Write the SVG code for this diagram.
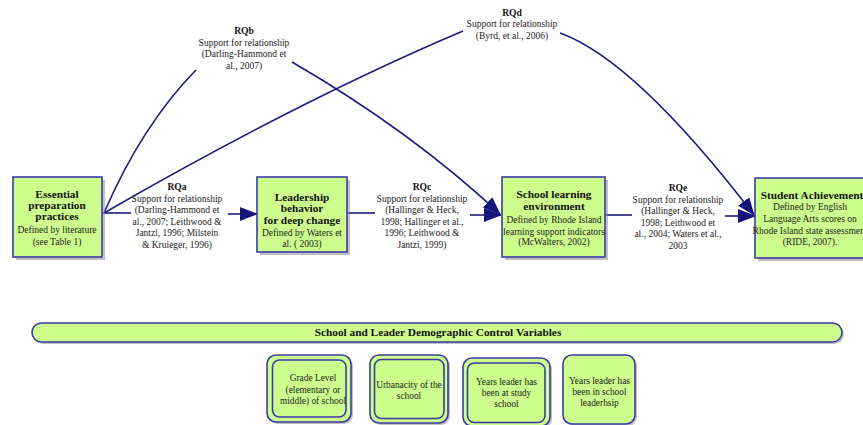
<svg xmlns="http://www.w3.org/2000/svg" width="863" height="425" viewBox="0 0 863 425">
<style>
.box{fill:#ccfd8d;stroke:#3b3ba6;stroke-width:1.6}
.sh{fill:#8c8c8c;opacity:0.55}
.ln{fill:none;stroke:#1b1b7e;stroke-width:1.6}
.t{font-family:"Liberation Serif","Times New Roman",serif;fill:#222;text-anchor:middle}
.b{font-weight:bold;font-size:11.3px;fill:#111}
.n{font-size:9.5px}
.rq{font-weight:bold;font-size:9.6px;fill:#111}
.s{font-size:9.4px}
</style>
<defs>
<marker id="ar" markerUnits="userSpaceOnUse" markerWidth="18" markerHeight="14" viewBox="0 0 18 14" refX="17" refY="7" orient="auto">
<path d="M0,0 L18,7 L0,14 Z" fill="#14147a"/>
</marker>
</defs>
<rect width="863" height="425" fill="#fff"/>

<g id="connectors">
<path class="ln" d="M102,213 H131"/>
<path class="ln" d="M228,214 H257" marker-end="url(#ar)"/>
<path class="ln" d="M347,213 H375"/>
<path class="ln" d="M470,215 H501" marker-end="url(#ar)"/>
<path class="ln" d="M605,215 H632"/>
<path class="ln" d="M725,216 H755" marker-end="url(#ar)"/>
<path class="ln" d="M104,213 Q142,125 196,70"/>
<path class="ln" d="M292,62 Q411,131 500,214" marker-end="url(#ar)"/>
<path class="ln" d="M104,213 Q300,100 463,31"/>
<path class="ln" d="M560,33 Q635,60 754,215" marker-end="url(#ar)"/>
</g>

<g id="label-RQa" class="t">
<text class="rq" x="177" y="190">RQa</text>
<text class="n" x="177" y="201.5">Support for relationship</text>
<text class="n" x="177" y="213">(Darling-Hammond et</text>
<text class="n" x="177" y="224.5">al., 2007; Leithwood &amp;</text>
<text class="n" x="177" y="236">Jantzi, 1996; Milstein</text>
<text class="n" x="177" y="247.5">&amp; Kruieger, 1996)</text>
</g>
<g id="label-RQb" class="t">
<text class="rq" x="244" y="34">RQb</text>
<text class="n" x="244" y="45.5">Support for relationship</text>
<text class="n" x="244" y="57">(Darling-Hammond et</text>
<text class="n" x="244" y="68.5">al., 2007)</text>
</g>
<g id="label-RQc" class="t">
<text class="rq" x="422" y="190">RQc</text>
<text class="n" x="422" y="201.5">Support for relationship</text>
<text class="n" x="422" y="213">(Hallinger &amp; Heck,</text>
<text class="n" x="422" y="224.5">1998; Hallinger et al.,</text>
<text class="n" x="422" y="236">1996; Leithwood &amp;</text>
<text class="n" x="422" y="247.5">Jantzi, 1999)</text>
</g>
<g id="label-RQd" class="t">
<text class="rq" x="512" y="16">RQd</text>
<text class="n" x="512" y="27">Support for relationship</text>
<text class="n" x="512" y="38.5">(Byrd, et al., 2006)</text>
</g>
<g id="label-RQe" class="t">
<text class="rq" x="678" y="191">RQe</text>
<text class="n" x="678" y="202.5">Support for relationship</text>
<text class="n" x="678" y="214">(Hallinger &amp; Heck,</text>
<text class="n" x="678" y="225.5">1998; Leithwood et</text>
<text class="n" x="678" y="237">al., 2004; Waters et al.,</text>
<text class="n" x="678" y="248.5">2003</text>
</g>

<g id="essential-preparation">
<rect class="sh" x="16" y="180" width="89" height="80"/>
<rect class="box" x="13" y="177" width="89" height="80"/>
<text class="t b" x="57" y="198">Essential</text>
<text class="t b" x="57" y="209">preparation</text>
<text class="t b" x="57" y="220">practices</text>
<text class="t n" x="57" y="233">Defined by literature</text>
<text class="t n" x="57" y="244.5">(see Table 1)</text>
</g>

<g id="leadership-behavior">
<rect class="sh" x="260" y="180" width="90" height="75"/>
<rect class="box" x="257" y="177" width="90" height="75"/>
<text class="t b" x="302" y="200.5">Leadership</text>
<text class="t b" x="302" y="211.5">behavior</text>
<text class="t b" x="302" y="223.5">for deep change</text>
<text class="t n" x="302" y="236">Defined by Waters et</text>
<text class="t n" x="302" y="247">al. ( 2003)</text>
</g>

<g id="school-learning-environment">
<rect class="sh" x="505" y="180" width="103" height="80"/>
<rect class="box" x="502" y="177" width="103" height="80"/>
<text class="t b" x="554" y="198">School learning</text>
<text class="t b" x="554" y="209.5">environment</text>
<text class="t n" x="554" y="222.5">Defined by Rhode Island</text>
<text class="t n" x="554" y="234.5">learning support indicators</text>
<text class="t n" x="554" y="245">(McWalters, 2002)</text>
</g>

<g id="student-achievement">
<rect class="sh" x="758" y="181" width="115" height="80"/>
<rect class="box" x="755" y="178" width="115" height="80"/>
<text class="t b" x="812" y="199">Student Achievement</text>
<text class="t n" x="810" y="210">Defined by  English</text>
<text class="t n" x="810" y="222">Language Arts scores on</text>
<text class="t n" x="810" y="233.5">Rhode Island state assessment</text>
<text class="t n" x="810" y="245">(RIDE, 2007).</text>
</g>

<g id="control-variables">
<rect class="sh" x="33" y="325" width="811" height="19" rx="9.5"/>
<rect class="box" x="32" y="323" width="810" height="19" rx="9.5"/>
<text class="t b" x="438" y="335.5">School and Leader Demographic Control Variables</text>
</g>

<g id="grade-level">
<rect class="sh" x="269" y="357" width="84" height="67" rx="9"/>
<rect class="box" x="267" y="355" width="84" height="67" rx="9"/>
<rect class="box" x="272.5" y="360" width="73.5" height="57" rx="7"/>
<text class="t s" x="313" y="380.5">Grade Level</text>
<text class="t s" x="313" y="392.5">(elementary or</text>
<text class="t s" x="313" y="404">middle) of school</text>
</g>

<g id="urbanacity">
<rect class="sh" x="372" y="357" width="78" height="68" rx="9"/>
<rect class="box" x="370" y="355" width="78" height="68" rx="9"/>
<rect class="box" x="374.5" y="359.5" width="69.5" height="59" rx="7"/>
<text class="t s" x="409" y="387.5">Urbanacity of the</text>
<text class="t s" x="409" y="398.5">school</text>
</g>

<g id="years-at-school">
<rect class="sh" x="465" y="360" width="87" height="68" rx="9"/>
<rect class="box" x="463" y="358" width="87" height="68" rx="9"/>
<rect class="box" x="467.5" y="363" width="77.5" height="59.5" rx="7"/>
<text class="t s" x="506.5" y="385">Years leader has</text>
<text class="t s" x="506.5" y="396">been at study</text>
<text class="t s" x="506.5" y="407">school</text>
</g>

<g id="years-in-leadership">
<rect class="sh" x="565" y="357" width="72" height="69" rx="9"/>
<rect class="box" x="563" y="355" width="72" height="69" rx="9"/>
<text class="t s" x="599.5" y="383.5">Years leader has</text>
<text class="t s" x="599.5" y="395">been in school</text>
<text class="t s" x="599.5" y="406">leaderhsip</text>
</g>
</svg>
